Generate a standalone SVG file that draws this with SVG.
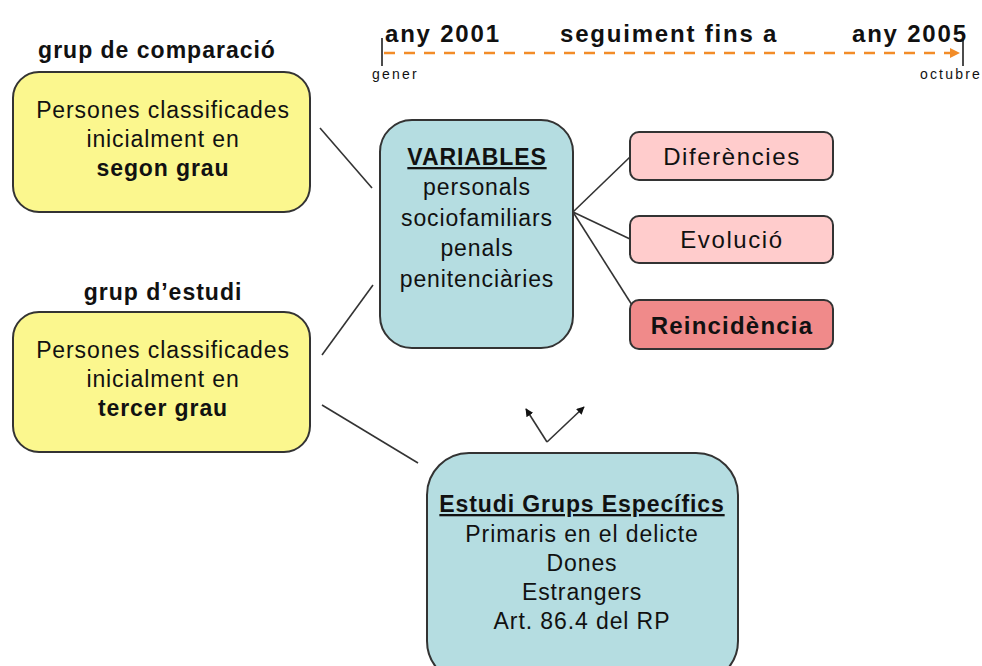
<svg xmlns="http://www.w3.org/2000/svg" width="982" height="666" viewBox="0 0 982 666">
<defs>
<style>
text{font-family:"Liberation Sans",Arial,sans-serif;fill:#111;}
.t{font-size:23px;text-anchor:middle;letter-spacing:0.9px;}
.p{font-size:24px;text-anchor:middle;letter-spacing:1.6px;}
.b{font-weight:bold;}
.h{font-size:23px;font-weight:bold;text-anchor:middle;letter-spacing:1px;}
.tl{font-size:24px;font-weight:bold;letter-spacing:1.8px;}
.sm{font-size:14px;letter-spacing:2.2px;}
.yel{fill:#fbf78e;stroke:#333;stroke-width:2;}
.blu{fill:#b5dde1;stroke:#333;stroke-width:2;}
.pk{fill:#ffcccc;stroke:#333;stroke-width:2;}
.rd{fill:#f08a8a;stroke:#333;stroke-width:2;}
.ln{stroke:#333;stroke-width:1.6;fill:none;}
</style>
<marker id="ah" viewBox="0 0 10 10" refX="9" refY="5" markerWidth="5" markerHeight="5" orient="auto"><path d="M0,0L10,5L0,10z" fill="#111"/></marker>
<marker id="oh" viewBox="0 0 10 10" refX="9" refY="5" markerWidth="4" markerHeight="4" orient="auto"><path d="M0,0L10,5L0,10z" fill="#f28c28"/></marker>
</defs>

<g id="timeline">
<line x1="382" y1="38" x2="382" y2="66" stroke="#111" stroke-width="1.5"/>
<line x1="963" y1="38" x2="963" y2="66" stroke="#111" stroke-width="1.5"/>
<line x1="384" y1="53" x2="959" y2="53" stroke="#f28c28" stroke-width="2.5" stroke-dasharray="11,9" marker-end="url(#oh)"/>
<text class="tl" x="385" y="42">any 2001</text>
<text class="tl" x="560" y="42">seguiment fins a</text>
<text class="tl" x="852" y="42">any 2005</text>
<text class="sm" x="372" y="79">gener</text>
<text class="sm" x="982" y="79" text-anchor="end">octubre</text>
</g>

<g id="connectors">
<line class="ln" x1="320" y1="128" x2="372" y2="188"/>
<line class="ln" x1="322" y1="355" x2="373" y2="285"/>
<line class="ln" x1="322" y1="405" x2="418" y2="463"/>
<line class="ln" x1="573" y1="212" x2="630" y2="157"/>
<line class="ln" x1="573" y1="212" x2="630" y2="239"/>
<line class="ln" x1="573" y1="212" x2="632" y2="305"/>
<line class="ln" x1="547" y1="442" x2="526" y2="409" marker-end="url(#ah)" stroke-width="2"/>
<line class="ln" x1="547" y1="442" x2="584" y2="407" marker-end="url(#ah)" stroke-width="2"/>
</g>

<g id="grup-comparacio">
<text class="h" x="157" y="58">grup de comparació</text>
<rect class="yel" x="13" y="72" width="297" height="140" rx="26"/>
<text class="t" x="163" y="118">Persones classificades</text>
<text class="t" x="163" y="147">inicialment en</text>
<text class="t b" x="163" y="176">segon grau</text>
</g>

<g id="grup-estudi">
<text class="h" x="163" y="300">grup d’estudi</text>
<rect class="yel" x="13" y="312" width="297" height="140" rx="26"/>
<text class="t" x="163" y="358">Persones classificades</text>
<text class="t" x="163" y="387">inicialment en</text>
<text class="t b" x="163" y="416">tercer grau</text>
</g>

<g id="variables">
<rect class="blu" x="380" y="120" width="193" height="228" rx="32"/>
<text class="t b" x="477" y="165" text-decoration="underline">VARIABLES</text>
<text class="t" x="477" y="195">personals</text>
<text class="t" x="477" y="226">sociofamiliars</text>
<text class="t" x="477" y="256">penals</text>
<text class="t" x="477" y="287">penitenciàries</text>
</g>

<g id="diferencies">
<rect class="pk" x="630" y="132" width="203" height="48" rx="9"/>
<text class="p" x="732" y="165">Diferències</text>
</g>
<g id="evolucio">
<rect class="pk" x="630" y="216" width="203" height="47" rx="9"/>
<text class="p" x="732" y="248">Evolució</text>
</g>
<g id="reincidencia">
<rect class="rd" x="630" y="300" width="203" height="49" rx="9"/>
<text class="p b" x="732" y="334" style="letter-spacing:1.2px">Reincidència</text>
</g>

<g id="estudi-grups">
<rect class="blu" x="427" y="453" width="311" height="230" rx="42"/>
<text class="t b" x="582" y="512" text-decoration="underline">Estudi Grups Específics</text>
<text class="t" x="582" y="542">Primaris en el delicte</text>
<text class="t" x="582" y="571">Dones</text>
<text class="t" x="582" y="600">Estrangers</text>
<text class="t" x="582" y="629">Art. 86.4 del RP</text>
</g>
</svg>
